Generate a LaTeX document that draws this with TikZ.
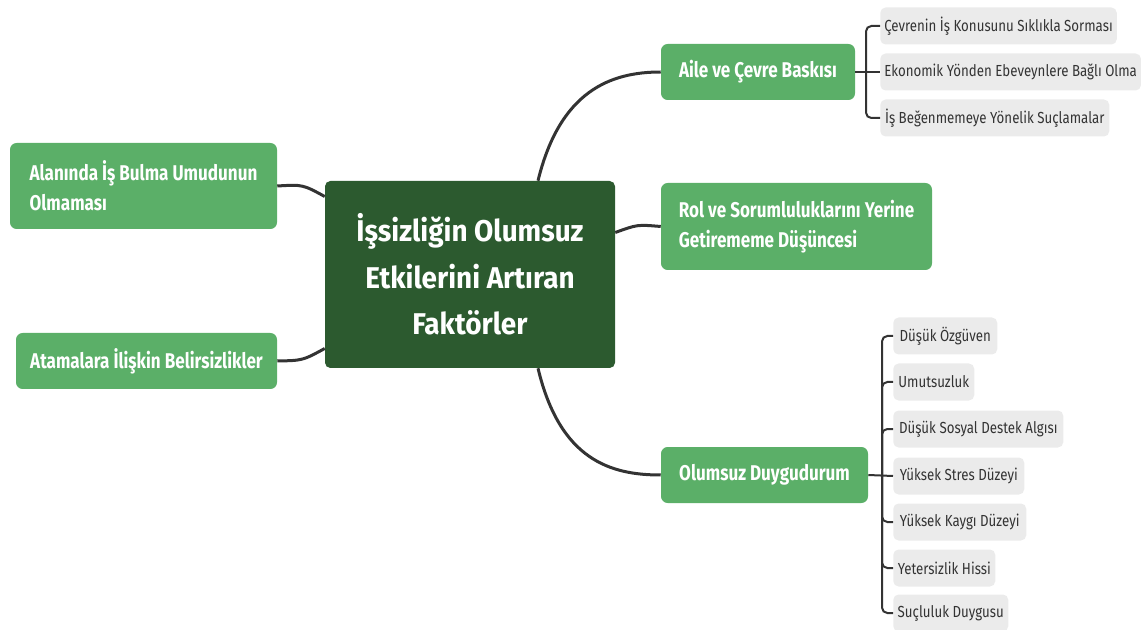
\documentclass[tikz,border=0pt]{standalone}
\usepackage{fontspec}
\setmainfont{Fira Sans}[FakeStretch=0.83]
\newfontfamily\centerfont{Fira Sans}[FakeStretch=0.93]
\newfontfamily\greenfont{Fira Sans}[FakeStretch=0.8]
\usetikzlibrary{calc}
\definecolor{darkg}{HTML}{2C5A2F}
\definecolor{midg}{HTML}{5BAF68}
\definecolor{leafg}{HTML}{EBEBEB}
\definecolor{linec}{HTML}{333333}
\definecolor{txtc}{HTML}{333333}
\tikzset{
  x=0.75pt, y=-0.75pt,
  centerbox/.style={fill=darkg, rounded corners=4pt, text=white, font=\centerfont\bfseries\fontsize{22.5}{35}\selectfont, align=center, inner sep=0pt},
  greenbox/.style={fill=midg, rounded corners=5pt, text=white, font=\greenfont\bfseries\fontsize{16}{22.5}\selectfont, inner sep=0pt, align=left},
  leafbox/.style={fill=leafg, rounded corners=4pt, text=txtc, font=\fontsize{12}{14}\selectfont, anchor=west, minimum height=27.75pt, inner xsep=3pt, inner ysep=0pt},
  mainline/.style={draw=linec, line width=2.25pt},
  brline/.style={draw=linec, line width=1.5pt, rounded corners=4pt},
}
\begin{document}
\begin{tikzpicture}
\useasboundingbox (0,0) rectangle (1148,630);
% central
\node[centerbox, minimum width=217.5pt, minimum height=140.25pt] (c) at (470,274.5) {İşsizliğin Olumsuz\\Etkilerini Artıran\\Faktörler};
% left
\node[greenbox, minimum width=200.25pt, minimum height=64.5pt] (l1) at (143.5,186) {Alanında İş Bulma Umudunun\\Olmaması};
\node[greenbox, minimum width=195.75pt, minimum height=42pt] (l2) at (146.5,361) {Atamalara İlişkin Belirsizlikler};
% right
\node[greenbox, minimum width=145.5pt, minimum height=42pt] (r1) at (758,72) {Aile ve Çevre Baskısı};
\node[greenbox, minimum width=203.25pt, minimum height=65.25pt] (r2) at (796.5,226.5) {Rol ve Sorumluluklarını Yerine\\Getirememe Düşüncesi};
\node[greenbox, minimum width=155.25pt, minimum height=42pt] (r3) at (764.5,475) {Olumsuz Duygudurum};
% leaves group 1
\node[leafbox, minimum width=175.5pt] (a1) at (880,26) {Çevrenin İş Konusunu Sıklıkla Sorması};
\node[leafbox, minimum width=193.5pt] (a2) at (880,72) {Ekonomik Yönden Ebeveynlere Bağlı Olma};
\node[leafbox, minimum width=171.75pt] (a3) at (880,118) {İş Beğenmemeye Yönelik Suçlamalar};
% leaves group 2
\node[leafbox, minimum width=78pt] (d1) at (893,336) {Düşük Özgüven};
\node[leafbox, minimum width=60.75pt] (d2) at (893,382) {Umutsuzluk};
\node[leafbox, minimum width=127.5pt] (d3) at (893,429) {Düşük Sosyal Destek Algısı};
\node[leafbox, minimum width=98.25pt] (d4) at (893,476) {Yüksek Stres Düzeyi};
\node[leafbox, minimum width=99.75pt] (d5) at (893,522) {Yüksek Kaygı Düzeyi};
\node[leafbox, minimum width=76.5pt] (d6) at (893,568) {Yetersizlik Hissi};
\node[leafbox, minimum width=86.25pt] (d7) at (893,613) {Suçluluk Duygusu};
% main connectors
\draw[mainline] ($(c.north)+(68,0)$) .. controls ($(c.north)+(90,-90)$) and ($(r1.west)+(-50,0)$) .. (r1.west);
\draw[mainline] ($(c.east)+(0,-42)$) .. controls ($(c.east)+(22,-50)$) .. (r2.west);
\draw[mainline] ($(c.south)+(68,0)$) .. controls ($(c.south)+(90,92)$) and ($(r3.west)+(-50,0)$) .. (r3.west);
\draw[mainline] ($(c.west)+(0,-78)$) .. controls ($(c.west)+(-22,-90)$) .. (l1.east);
\draw[mainline] ($(c.west)+(0,74)$) .. controls ($(c.west)+(-22,86)$) .. (l2.east);
% brackets
\coordinate (b1) at (866,72);
\coordinate (b2) at (882,476);
\draw[brline] (r1.east) -- (a2.west);
\draw[brline] (a1.west) -| (b1);
\draw[brline] (a3.west) -| (b1);
\draw[brline] (r3.east) -- (d4.west);
\foreach \n in {d1,d2,d3,d5,d6,d7} { \draw[brline] (\n.west) -| (b2); }
\end{tikzpicture}
\end{document}
